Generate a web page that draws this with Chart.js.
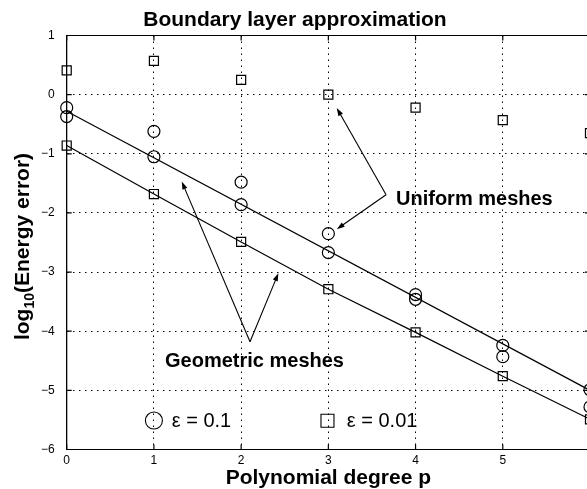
<!DOCTYPE html>
<html>
<head>
<meta charset="utf-8">
<script src="https://cdn.jsdelivr.net/npm/chart.js@4.4.1/dist/chart.umd.min.js"></script>
<style>
  html, body { margin: 0; padding: 0; background: #fff; overflow: hidden; }
  #wrap { width: 600px; height: 489px; }
</style>
</head>
<body>
<div id="wrap"><canvas id="grafico"></canvas></div>
<script>
// polynomial degree p
const degrees = [0, 1, 2, 3, 4, 5, 6];

// log10(energy error), eps = 0.1 (circles)
const uniformEps01 = [-0.37, -0.62, -1.48, -2.35, -3.46, -4.43, -5.28];
const geometricEps01 = [-0.22, -1.05, -1.86, -2.67, -3.38, -4.24, -4.99];

// log10(energy error), eps = 0.01 (squares)
const uniformEps001 = [0.41, 0.57, 0.25, 0.0, -0.22, -0.43, -0.65];
const geometricEps001 = [-0.86, -1.68, -2.49, -3.29, -4.02, -4.76, -5.49];

// straight line through the eps = 0.1 geometric results
const fitDegrees = [0, 6];
const fitEps01 = [-0.28, -5.0];

const xTicks = [0, 1, 2, 3, 4, 5, 6];
const yTicks = [-6, -5, -4, -3, -2, -1, 0, 1];

const FONT = "'Liberation Sans', Arial, Helvetica, sans-serif";
Chart.defaults.font.family = FONT;
Chart.defaults.color = "#000";

function pares(xs, ys) {
    return xs.map((x, i) => ({ x: x, y: ys[i] }));
}

// annotation layout, in data units
const notas = [
    { texto: "Uniform meshes", x: 3.776, y: -1.863, desde: [3.662, -1.693], hacia: [[3.096, -0.225], [3.096, -2.274]] },
    { texto: "Geometric meshes", x: 1.127, y: -4.611, desde: [2.102, -4.178], hacia: [[1.319, -1.468], [2.427, -3.019]] }
];
const leyenda = [
    { estilo: "circle", x: 1.0, y: -5.51, texto: "\u03b5 = 0.1", tx: 1.204 },
    { estilo: "rect", x: 2.99, y: -5.515, texto: "\u03b5 = 0.01", tx: 3.211 }
];

function flecha(ctx, x0, y0, x1, y1) {
    const ang = Math.atan2(y1 - y0, x1 - x0);
    const largo = 8, ancho = 2.6;
    ctx.beginPath();
    ctx.moveTo(x0, y0);
    ctx.lineTo(x1 - Math.cos(ang) * largo * 0.8, y1 - Math.sin(ang) * largo * 0.8);
    ctx.stroke();
    ctx.beginPath();
    ctx.moveTo(x1, y1);
    ctx.lineTo(x1 - Math.cos(ang) * largo - Math.sin(ang) * ancho, y1 - Math.sin(ang) * largo + Math.cos(ang) * ancho);
    ctx.lineTo(x1 - Math.cos(ang) * largo + Math.sin(ang) * ancho, y1 - Math.sin(ang) * largo - Math.cos(ang) * ancho);
    ctx.closePath();
    ctx.fill();
}

const extras = {
    id: "extras",
    beforeDraw(chart) {
        const ctx = chart.ctx;
        ctx.save();
        ctx.fillStyle = "#fff";
        ctx.fillRect(0, 0, chart.width, chart.height);
        ctx.restore();
    },
    afterDraw(chart) {
        const ctx = chart.ctx;
        const a = chart.chartArea;
        const sx = chart.scales.x, sy = chart.scales.y;
        ctx.save();
        ctx.strokeStyle = "#000";
        ctx.fillStyle = "#000";
        ctx.lineWidth = 1.2;

        // box
        ctx.beginPath();
        ctx.rect(a.left, a.top, a.right - a.left, a.bottom - a.top);
        ctx.stroke();

        // inward tick marks
        ctx.beginPath();
        xTicks.forEach(v => {
            const px = sx.getPixelForValue(v);
            ctx.moveTo(px, a.bottom); ctx.lineTo(px, a.bottom - 5);
            ctx.moveTo(px, a.top); ctx.lineTo(px, a.top + 5);
        });
        yTicks.forEach(v => {
            const py = sy.getPixelForValue(v);
            ctx.moveTo(a.left, py); ctx.lineTo(a.left + 5, py);
            ctx.moveTo(a.right, py); ctx.lineTo(a.right - 5, py);
        });
        ctx.stroke();

        // y title with subscript
        ctx.save();
        ctx.translate(29, (a.top + a.bottom) / 2 + 4);
        ctx.rotate(-Math.PI / 2);
        const partes = [
            { t: "log", f: "bold 21px " + FONT, dy: 0 },
            { t: "10", f: "bold 14px " + FONT, dy: 5 },
            { t: "(Energy error)", f: "bold 21px " + FONT, dy: 0 }
        ];
        let total = 0;
        partes.forEach(p => { ctx.font = p.f; total += ctx.measureText(p.t).width; });
        let cx = -total / 2;
        ctx.textBaseline = "alphabetic";
        ctx.textAlign = "left";
        partes.forEach(p => {
            ctx.font = p.f;
            ctx.fillText(p.t, cx, p.dy);
            cx += ctx.measureText(p.t).width;
        });
        ctx.restore();

        // annotations
        ctx.lineWidth = 1.1;
        ctx.font = "bold 20px " + FONT;
        ctx.textAlign = "left";
        ctx.textBaseline = "alphabetic";
        notas.forEach(n => {
            ctx.fillText(n.texto, sx.getPixelForValue(n.x), sy.getPixelForValue(n.y));
            const x0 = sx.getPixelForValue(n.desde[0]), y0 = sy.getPixelForValue(n.desde[1]);
            n.hacia.forEach(h => flecha(ctx, x0, y0, sx.getPixelForValue(h[0]), sy.getPixelForValue(h[1])));
        });

        // legend inside the axes
        ctx.font = "20px " + FONT;
        ctx.textBaseline = "middle";
        leyenda.forEach(l => {
            const px = sx.getPixelForValue(l.x), py = sy.getPixelForValue(l.y);
            ctx.beginPath();
            if (l.estilo === "circle") {
                ctx.arc(px, py, 8.5, 0, Math.PI * 2);
            } else {
                ctx.rect(px - 6.5, py - 6.5, 13, 13);
            }
            ctx.stroke();
            ctx.fillText(l.texto, sx.getPixelForValue(l.tx), py + 1);
        });
        ctx.restore();
    }
};

const marcador = {
    borderColor: "#000",
    backgroundColor: "rgba(0,0,0,0)",
    borderWidth: 1.2,
    clip: false
};

new Chart(document.getElementById("grafico").getContext("2d"), {
    type: "scatter",
    data: {
        datasets: [
            Object.assign({ label: "uniform eps=0.1", data: pares(degrees, uniformEps01), pointStyle: "circle", pointRadius: 6, showLine: false }, marcador),
            Object.assign({ label: "geometric eps=0.1", data: pares(degrees, geometricEps01), pointStyle: "circle", pointRadius: 6, showLine: false }, marcador),
            Object.assign({ label: "uniform eps=0.01", data: pares(degrees, uniformEps001), pointStyle: "rect", pointRadius: 6.4, showLine: false }, marcador),
            Object.assign({ label: "geometric eps=0.01", data: pares(degrees, geometricEps001), pointStyle: "rect", pointRadius: 6.4, showLine: true }, marcador),
            Object.assign({ label: "fit eps=0.1", data: pares(fitDegrees, fitEps01), pointRadius: 0, showLine: true }, marcador)
        ]
    },
    options: {
        responsive: true,
        maintainAspectRatio: false,
        animation: false,
        layout: { padding: { left: 0, right: 10, top: 0, bottom: 0 } },
        plugins: {
            legend: { display: false },
            tooltip: { enabled: false },
            title: {
                display: true,
                text: "Boundary layer approximation",
                color: "#000",
                font: { size: 21, weight: "bold", lineHeight: 1.2 },
                padding: { top: 7.5, bottom: 2.8 }
            }
        },
        scales: {
            x: {
                type: "linear",
                min: 0, max: 6,
                afterBuildTicks: s => { s.ticks = xTicks.map(v => ({ value: v })); },
                afterFit: s => { s.height = 39.5; },
                ticks: { font: { size: 12 }, padding: 4, maxRotation: 0 },
                grid: { color: "#000", lineWidth: 1, drawTicks: false },
                border: { display: true, color: "#000", dash: [1.5, 4.5] },
                title: {
                    display: true,
                    text: "Polynomial degree p",
                    font: { size: 21, weight: "bold", lineHeight: 1 },
                    padding: { top: 0, bottom: 0 }
                }
            },
            y: {
                type: "linear",
                min: -6, max: 1,
                afterBuildTicks: s => { s.ticks = yTicks.map(v => ({ value: v })); },
                afterFit: s => { s.width = 66.7; },
                ticks: {
                    font: { size: 12 },
                    padding: 12,
                    callback: v => (v < 0 ? "\u2212" + Math.abs(v) : String(v))
                },
                grid: { color: "#000", lineWidth: 1, drawTicks: false },
                border: { display: true, color: "#000", dash: [1.5, 4.5] }
            }
        }
    },
    plugins: [extras]
});
</script>
</body>
</html>
